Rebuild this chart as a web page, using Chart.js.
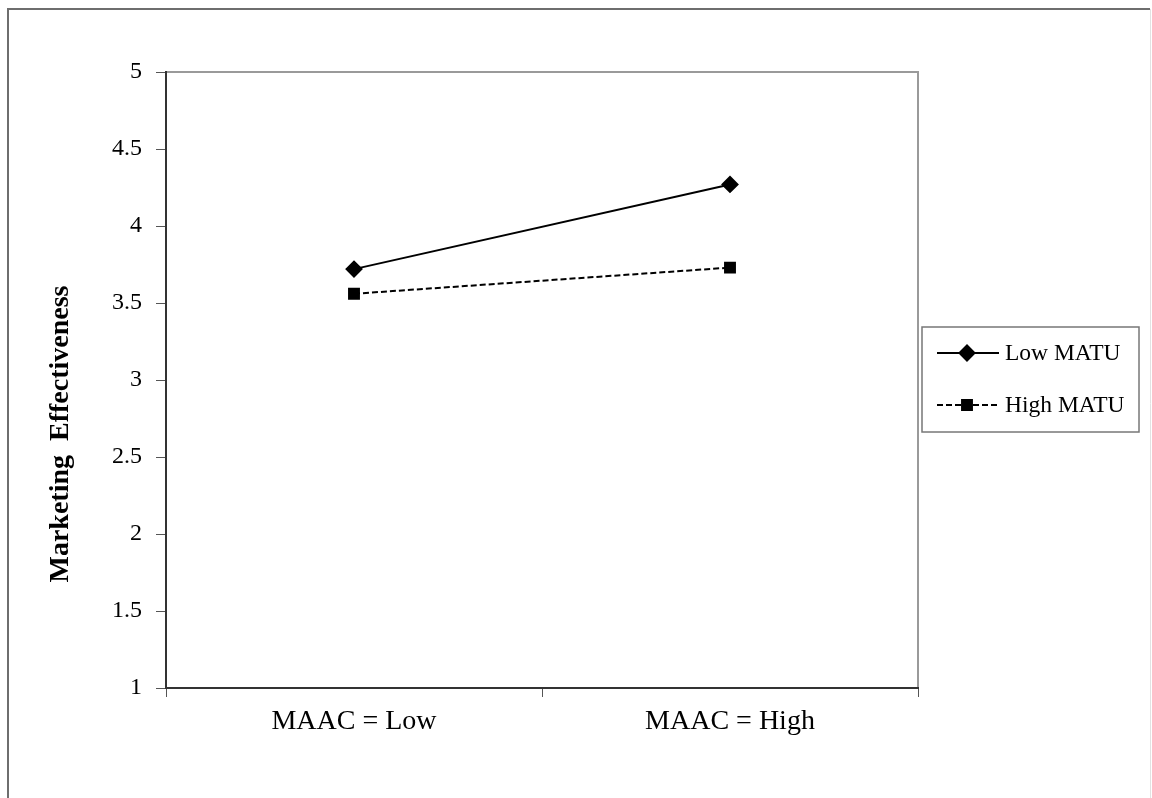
<!DOCTYPE html>
<html>
<head>
<meta charset="utf-8">
<script src="https://cdn.jsdelivr.net/npm/chart.js@4.4.0/dist/chart.umd.min.js"></script>
<style>
  html, body { margin: 0; padding: 0; background: #fff; }
  #wrap { width: 1152px; height: 798px; }
</style>
</head>
<body>
<div id="wrap"><canvas id="myChart" width="1152" height="798"></canvas></div>
<script>
// datos
const categorias = ["MAAC = Low", "MAAC = High"];
const lowMatu = [3.72, 4.27];
const highMatu = [3.56, 3.73];
const nombres = ["Low MATU", "High MATU"];
const tituloY = "Marketing  Effectiveness";
const yMin = 1, yMax = 5, yPaso = 0.5;

const serif = "'Liberation Serif', 'Times New Roman', serif";

// marco exterior, borde del area de trazado y titulo del eje Y
const marcos = {
  id: 'marcos',
  beforeDraw(chart) {
    const c = chart.ctx;
    const a = chart.chartArea;
    c.save();
    c.fillStyle = '#fff';
    c.fillRect(0, 0, chart.width, chart.height);
    c.lineWidth = 2;
    c.strokeStyle = '#6e6e6e';
    c.beginPath();
    c.moveTo(8, 820); c.lineTo(8, 9); c.lineTo(1150, 9);
    c.stroke();
    c.lineWidth = 1;
    c.strokeStyle = '#e2e2e2';
    c.beginPath();
    c.moveTo(1150.5, 9); c.lineTo(1150.5, 798);
    c.stroke();
    c.lineWidth = 2;
    c.strokeStyle = '#9a9a9a';
    c.strokeRect(a.left, a.top, a.right - a.left, a.bottom - a.top);

    // titulo Y (un poco por debajo del centro, como en el original)
    c.translate(61, 434);
    c.rotate(-Math.PI / 2);
    c.fillStyle = '#000';
    c.font = 'bold 28px ' + serif;
    c.textAlign = 'center';
    c.textBaseline = 'middle';
    c.fillText(tituloY, 0, 0);
    c.restore();
  }
};

// leyenda con linea y marcador, como en el original
const leyenda = {
  id: 'leyenda',
  afterDraw(chart) {
    const c = chart.ctx;
    c.save();
    c.lineWidth = 1.5;
    c.strokeStyle = '#777';
    c.strokeRect(922, 327, 217, 105);
    const filas = [353, 405];
    chart.data.datasets.forEach((ds, i) => {
      const y = filas[i];
      c.strokeStyle = '#000';
      c.lineWidth = 2;
      c.setLineDash(ds.borderDash || []);
      c.beginPath();
      c.moveTo(937, y); c.lineTo(999, y);
      c.stroke();
      c.setLineDash([]);
      Chart.helpers.drawPoint(c, {
        pointStyle: ds.pointStyle,
        radius: ds.pointRadius,
        borderWidth: 1
      }, 967, y);
      c.fillStyle = '#000';
      c.font = '23.5px ' + serif;
      c.textBaseline = 'middle';
      c.textAlign = 'left';
      c.fillText(ds.label, 1005, y + 1);
    });
    c.restore();
  }
};

const ctx = document.getElementById('myChart').getContext('2d');
const myChart = new Chart(ctx, {
  type: 'line',
  data: {
    labels: categorias,
    datasets: [{
      label: nombres[0],
      data: lowMatu,
      borderColor: '#000',
      backgroundColor: '#000',
      borderWidth: 2,
      pointStyle: 'rectRot',
      pointRadius: 7.5,
      pointBackgroundColor: '#000',
      pointBorderColor: '#000',
      fill: false,
      tension: 0
    }, {
      label: nombres[1],
      data: highMatu,
      borderColor: '#000',
      backgroundColor: '#000',
      borderWidth: 2,
      borderDash: [6, 3],
      pointStyle: 'rect',
      pointRadius: 7,
      pointBackgroundColor: '#000',
      pointBorderColor: '#000',
      fill: false,
      tension: 0
    }]
  },
  options: {
    responsive: false,
    animation: false,
    devicePixelRatio: 1,
    layout: { padding: { left: 40, right: 234, top: 72, bottom: 0 } },
    plugins: {
      legend: { display: false },
      tooltip: { enabled: false }
    },
    scales: {
      x: {
        type: 'category',
        offset: true,
        grid: {
          offset: true,
          drawOnChartArea: false,
          drawTicks: true,
          tickLength: 9,
          color: '#555',
          lineWidth: 1
        },
        border: { display: true, color: '#333', width: 2 },
        ticks: {
          color: '#000',
          font: { family: serif, size: 28 },
          padding: 8
        },
        afterFit(s) { s.height = 110; }
      },
      y: {
        min: yMin,
        max: yMax,
        grid: {
          drawOnChartArea: false,
          drawTicks: true,
          tickLength: 10,
          color: '#555',
          lineWidth: 1
        },
        border: { display: true, color: '#333', width: 2 },
        ticks: {
          stepSize: yPaso,
          color: '#000',
          font: { family: serif, size: 24 },
          padding: 14,
          callback: v => String(v)
        },
        afterFit(s) { s.width = 126; }
      }
    }
  },
  plugins: [marcos, leyenda]
});
</script>
</body>
</html>
